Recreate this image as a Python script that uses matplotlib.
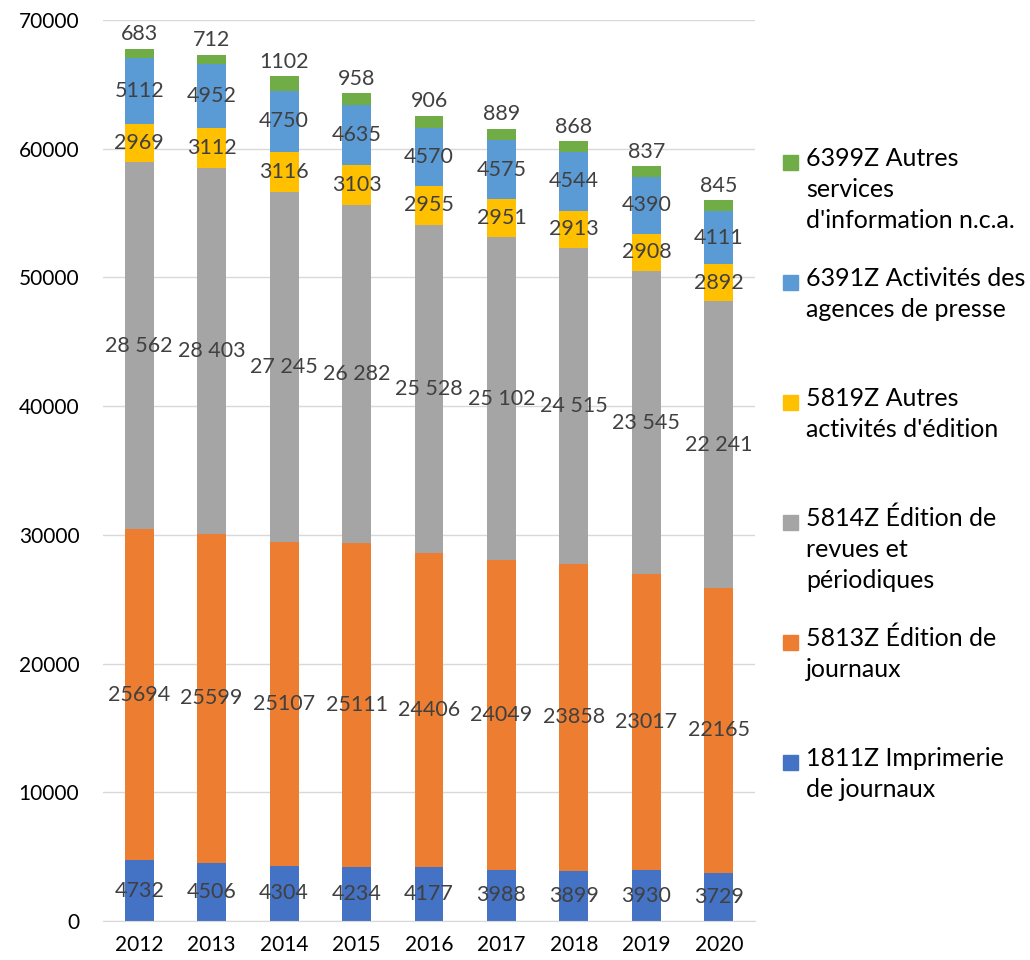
import numpy as np
import matplotlib.pyplot as plt
from matplotlib.patches import Rectangle

plt.rcParams['font.family'] = ['Lato', 'DejaVu Sans']

years = ['2012', '2013', '2014', '2015', '2016', '2017', '2018', '2019', '2020']
imprimerie = [4732, 4506, 4304, 4234, 4177, 3988, 3899, 3930, 3729]
journaux = [25694, 25599, 25107, 25111, 24406, 24049, 23858, 23017, 22165]
revues = [28562, 28403, 27245, 26282, 25528, 25102, 24515, 23545, 22241]
autres_edition = [2969, 3112, 3116, 3103, 2955, 2951, 2913, 2908, 2892]
agences = [5112, 4952, 4750, 4635, 4570, 4575, 4544, 4390, 4111]
autres_info = [683, 712, 1102, 958, 906, 889, 868, 837, 845]

series = [
    ("1811Z Imprimerie\nde journaux", imprimerie, '#4472C4'),
    ("5813Z Édition de\njournaux", journaux, '#ED7D31'),
    ("5814Z Édition de\nrevues et\npériodiques", revues, '#A5A5A5'),
    ("5819Z Autres\nactivités d'édition", autres_edition, '#FFC000'),
    ("6391Z Activités des\nagences de presse", agences, '#5B9BD5'),
    ("6399Z Autres\nservices\nd'information n.c.a.", autres_info, '#70AD47'),
]

fig = plt.figure(figsize=(10.3, 9.6), dpi=100)
ax = fig.add_axes([103 / 1030, 1 - 921 / 960, 652 / 1030, 901 / 960])

x = np.arange(len(years))
bottom = np.zeros(len(years))
lab_color = '#404040'
fs = 15.5

for i, (name, vals, col) in enumerate(series):
    vals = np.array(vals, dtype=float)
    ax.bar(x, vals, 0.4, bottom=bottom, color=col, zorder=2)
    for xi, b, v in zip(x, bottom, vals):
        if i == 5:
            ax.text(xi, b + v + 350, f"{int(v)}", ha='center', va='bottom',
                    fontsize=fs, color=lab_color, zorder=3)
        else:
            txt = f"{int(v):,}".replace(',', ' ') if i == 2 else f"{int(v)}"
            ax.text(xi, b + v / 2, txt, ha='center', va='center',
                    fontsize=fs, color=lab_color, zorder=3)
    bottom += vals

ax.set_xlim(-0.5, len(years) - 0.5)
ax.set_ylim(0, 70000)
ax.set_yticks(np.arange(0, 70001, 10000))
ax.set_xticks(x)
ax.set_xticklabels(years)
ax.tick_params(axis='both', length=0, labelsize=15, colors='#000000')
ax.tick_params(axis='y', pad=17)
ax.tick_params(axis='x', pad=10)
ax.grid(axis='y', color='#D9D9D9', linewidth=1, zorder=0)
for s in ['top', 'right', 'left']:
    ax.spines[s].set_visible(False)
ax.spines['bottom'].set_color('#D9D9D9')

# legend, Excel style: one slot per entry, top series first
for k, (name, vals, col) in enumerate(reversed(series)):
    ytop = 162 + 120 * k
    fig.patches.append(Rectangle((783 / 1030, 1 - (ytop + 8) / 960), 15 / 1030, 15 / 960,
                                 transform=fig.transFigure, color=col))
    fig.text(806 / 1030, 1 - (ytop - 15) / 960, name, ha='left', va='top',
             fontsize=18, color='#000000', linespacing=1.42)

fig.savefig('out.png', dpi=100)
